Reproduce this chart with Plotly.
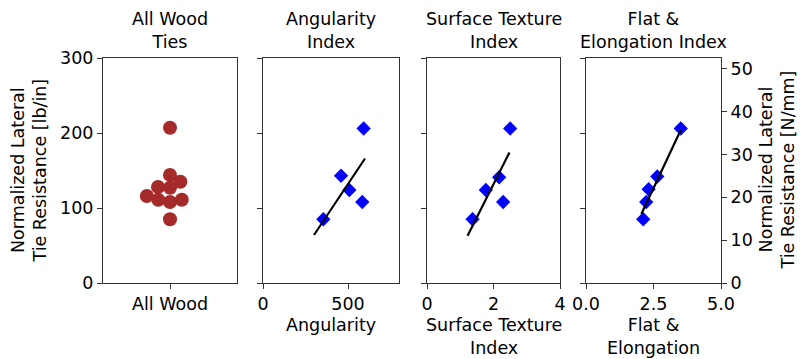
import numpy as np
import plotly.graph_objects as go

# ---------------- data (lb/in) ----------------
wood_values = [207, 144, 135, 128, 127, 116, 111, 111, 108, 85]

ang_x = [592, 459, 508, 584, 355]
ang_y = [206, 143, 124, 108, 85]
ang_fit_x = [300, 600]
ang_fit_y = [64, 166]

tex_x = [2.50, 2.17, 1.77, 2.29, 1.37]
tex_y = [206, 141, 124, 108, 85]
tex_fit_x = [1.22, 2.48]
tex_fit_y = [63, 174]

fe_x = [3.51, 2.64, 2.32, 2.23, 2.12]
fe_y = [206, 142, 125, 108, 85]
fe_fit_x = [2.05, 3.51]
fe_fit_y = [92, 204]

titles = ["All Wood<br>Ties", "Angularity<br>Index", "Surface Texture<br>Index", "Flat &<br>Elongation Index"]
xlabels = ["", "Angularity", "Surface Texture<br>Index", "Flat &<br>Elongation"]
LB_TO_NMM = 0.175127

# ---------------- layout geometry ----------------
W, H = 801, 359
panels_px = [(103, 237), (263, 399), (427, 560), (586, 721)]
top_px, bot_px = 58, 283
dom_x = [[a / W, b / W] for a, b in panels_px]
dom_y = [1 - bot_px / H, 1 - top_px / H]
ymax = 300
px_per_unit = (bot_px - top_px) / ymax

# ---------------- beeswarm offsets (computed in pixels) ----------------
diam = 12.0
order = np.argsort(wood_values, kind="stable")
placed = []
offsets = np.zeros(len(wood_values))
for i in order:
    yi = wood_values[i] * px_per_unit
    cands = [0.0]
    for (xo, yo) in placed:
        dy = abs(yi - yo)
        if dy < diam:
            dx = np.sqrt(diam**2 - dy**2)
            cands += [xo + dx, xo - dx]
    cands = sorted(cands, key=lambda c: (abs(c), c))
    for c in cands:
        ok = all((c - xo) ** 2 + (yi - yo) ** 2 >= diam**2 - 1e-6 for (xo, yo) in placed)
        if ok:
            offsets[i] = c
            placed.append((c, yi))
            break

half_w = (panels_px[0][1] - panels_px[0][0]) / 2

font = dict(family="DejaVu Sans", size=17.5, color="black")
fig = go.Figure()

fig.add_trace(go.Scatter(x=offsets, y=wood_values, mode="markers",
                         marker=dict(size=14, color="#a52a2a", line=dict(width=0)),
                         xaxis="x", yaxis="y", showlegend=False))

for k, (xs, ys, fx, fy) in enumerate([(ang_x, ang_y, ang_fit_x, ang_fit_y),
                                      (tex_x, tex_y, tex_fit_x, tex_fit_y),
                                      (fe_x, fe_y, fe_fit_x, fe_fit_y)], start=2):
    fig.add_trace(go.Scatter(x=xs, y=ys, mode="markers",
                             marker=dict(symbol="diamond", size=11, color="#0000ff", line=dict(width=0)),
                             xaxis=f"x{k}", yaxis=f"y{k}", showlegend=False))
    fig.add_trace(go.Scatter(x=fx, y=fy, mode="lines", line=dict(color="black", width=2.2),
                             xaxis=f"x{k}", yaxis=f"y{k}", showlegend=False))

# invisible trace for the right-hand N/mm axis
fig.add_trace(go.Scatter(x=fe_x, y=[v * LB_TO_NMM for v in fe_y], mode="markers",
                         marker=dict(opacity=0), hoverinfo="skip",
                         xaxis="x4", yaxis="y5", showlegend=False))

axis_common = dict(showline=True, linecolor="#333", linewidth=1, mirror=True,
                   ticks="outside", ticklen=5, tickcolor="#333", showgrid=False,
                   zeroline=False, tickfont=font, automargin=False)

layout = dict(template="none", width=W, height=H, margin=dict(l=0, r=0, t=0, b=0, pad=0),
              plot_bgcolor="white", paper_bgcolor="white", font=font, showlegend=False)

xranges = [[-half_w, half_w], [0, 800], [0, 4], [0, 5]]
xtickvals = [[0], [0, 500], [0, 2, 4], [0, 2.5, 5]]
xticktext = [["All Wood"], ["0", "500"], ["0", "2", "4"], ["0.0", "2.5", "5.0"]]
for k in range(4):
    sfx = "" if k == 0 else str(k + 1)
    layout[f"xaxis{sfx}"] = dict(axis_common, domain=dom_x[k], range=xranges[k],
                                 tickvals=xtickvals[k], ticktext=xticktext[k],
                                 anchor=f"y{sfx}", mirror=True)
    layout[f"yaxis{sfx}"] = dict(axis_common, domain=dom_y, range=[0, ymax],
                                 tickvals=[0, 100, 200, 300], anchor=f"x{sfx}",
                                 showticklabels=(k == 0), mirror=True)

layout["yaxis5"] = dict(axis_common, overlaying="y4", side="right", anchor="x4",
                        range=[0, ymax * LB_TO_NMM], tickvals=[0, 10, 20, 30, 40, 50],
                        mirror=False)
layout["yaxis4"]["mirror"] = False

annotations = []
for k in range(4):
    cx = (dom_x[k][0] + dom_x[k][1]) / 2
    annotations.append(dict(text=titles[k], x=cx, y=1 - 54 / H, xref="paper", yref="paper",
                            xanchor="center", yanchor="bottom", showarrow=False, font=font))
    if xlabels[k]:
        annotations.append(dict(text=xlabels[k], x=cx, y=1 - 313 / H, xref="paper", yref="paper",
                                xanchor="center", yanchor="top", showarrow=False, font=font))
annotations.append(dict(text="Normalized Lateral<br>Tie Resistance [lb/in]", x=29 / W, y=1 - 170.5 / H,
                        xref="paper", yref="paper", xanchor="center", yanchor="middle",
                        textangle=-90, showarrow=False, font=font))
annotations.append(dict(text="Normalized Lateral<br>Tie Resistance [N/mm]", x=777 / W, y=1 - 170.5 / H,
                        xref="paper", yref="paper", xanchor="center", yanchor="middle",
                        textangle=-90, showarrow=False, font=font))
layout["annotations"] = annotations

fig.update_layout(**layout)
fig.write_html("out.html")
